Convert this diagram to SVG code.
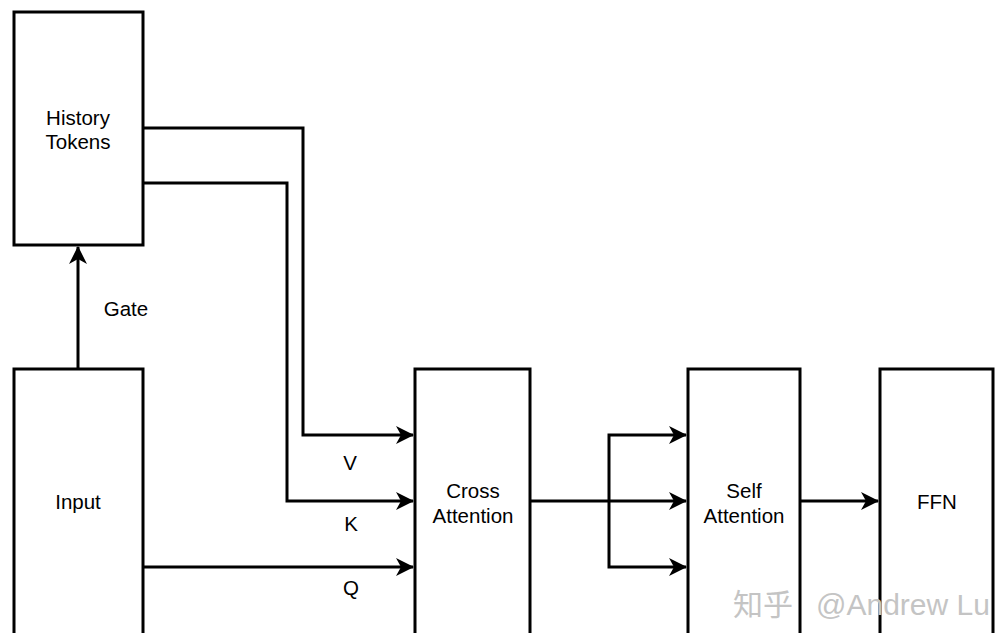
<svg xmlns="http://www.w3.org/2000/svg" width="995" height="633" viewBox="0 0 995 633">
  <style>
    .box { fill: #ffffff; stroke: #000000; stroke-width: 3; }
    .wire { fill: none; stroke: #000000; stroke-width: 3; }
    .lbl { font-family: "Liberation Sans", Arial, sans-serif; font-size: 20.5px; fill: #000000; text-anchor: middle; dominant-baseline: central; }
    .mark { font-family: "Liberation Sans", "Noto Sans CJK SC", sans-serif; font-size: 30px; fill: #c4c4c4; }
  </style>
  <defs>
    <marker id="arrow" markerUnits="userSpaceOnUse" viewBox="0 0 18 18" markerWidth="18" markerHeight="18" refX="17" refY="9" orient="auto">
      <path d="M0,0 L18,9 L0,18 L5,9 Z" fill="#000000"/>
    </marker>
  </defs>
  <rect width="995" height="633" fill="#ffffff"/>

  <g id="history-tokens">
    <rect class="box" x="14" y="12" width="129" height="233"/>
    <text class="lbl" x="78" y="117">History</text>
    <text class="lbl" x="78" y="141">Tokens</text>
  </g>

  <g id="input">
    <rect class="box" x="14" y="369" width="129" height="280"/>
    <text class="lbl" x="78" y="501">Input</text>
  </g>

  <g id="cross-attention">
    <rect class="box" x="415" y="369" width="115" height="280"/>
    <text class="lbl" x="473" y="490">Cross</text>
    <text class="lbl" x="473" y="515">Attention</text>
  </g>

  <g id="self-attention">
    <rect class="box" x="688" y="369" width="112" height="280"/>
    <text class="lbl" x="744" y="490">Self</text>
    <text class="lbl" x="744" y="515">Attention</text>
  </g>

  <g id="ffn">
    <rect class="box" x="880" y="369" width="113" height="280"/>
    <text class="lbl" x="937" y="501">FFN</text>
  </g>

  <g id="connectors">
    <path class="wire" d="M78,369 L78,247" marker-end="url(#arrow)"/>
    <path class="wire" d="M143,128 L303,128 L303,435 L413,435" marker-end="url(#arrow)"/>
    <path class="wire" d="M143,183 L287,183 L287,501 L413,501" marker-end="url(#arrow)"/>
    <path class="wire" d="M143,567 L413,567" marker-end="url(#arrow)"/>
    <path class="wire" d="M530,501 L686,501" marker-end="url(#arrow)"/>
    <path class="wire" d="M609,501 L609,435 L686,435" marker-end="url(#arrow)"/>
    <path class="wire" d="M609,501 L609,567 L686,567" marker-end="url(#arrow)"/>
    <path class="wire" d="M800,501 L878,501" marker-end="url(#arrow)"/>
  </g>

  <g id="edge-labels">
    <text class="lbl" x="126" y="308">Gate</text>
    <text class="lbl" x="350" y="462">V</text>
    <text class="lbl" x="351" y="523">K</text>
    <text class="lbl" x="351" y="587">Q</text>
  </g>

  <text class="mark" x="733" y="615">知乎<tspan x="816">@Andrew Lu</tspan></text>
</svg>
